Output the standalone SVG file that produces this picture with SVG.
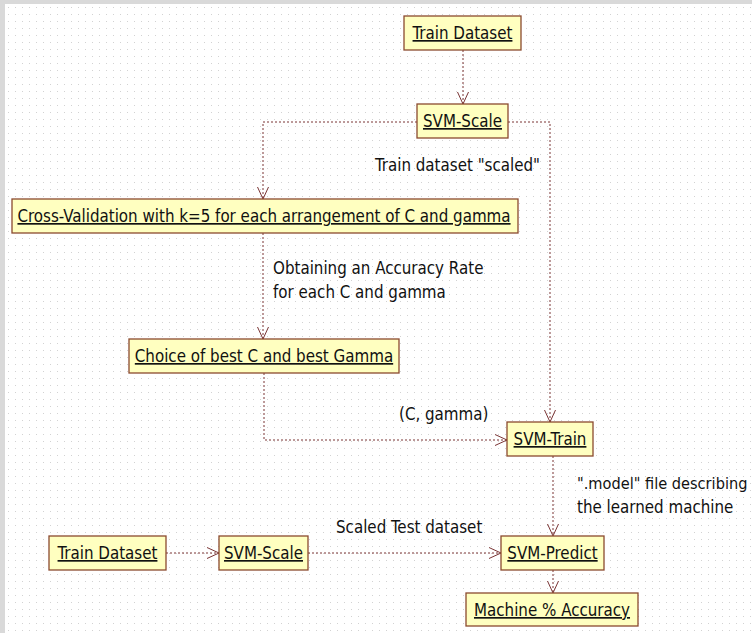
<svg xmlns="http://www.w3.org/2000/svg" width="752" height="633" viewBox="0 0 752 633">
<defs>
<pattern id="grid" x="5" y="4" width="7" height="7" patternUnits="userSpaceOnUse">
<rect x="3" y="3" width="1" height="1" fill="#d2d2d2"/>
</pattern>
<marker id="arr" viewBox="0 0 14 14" refX="13" refY="7" markerWidth="14" markerHeight="14" markerUnits="userSpaceOnUse" orient="auto">
<path d="M1,1.5 L13,7 L1,12.5" fill="none" stroke="#7a3535" stroke-width="1"/>
</marker>
<style>
.box{fill:#ffffc0;stroke:#8b4a2e;stroke-width:1.3}
.t{font-family:"DejaVu Sans Condensed","DejaVu Sans",sans-serif;font-stretch:condensed;font-size:16.8px;fill:#111;text-decoration:underline}
.l{font-family:"DejaVu Sans Condensed","DejaVu Sans",sans-serif;font-stretch:condensed;font-size:16.8px;fill:#111}
.c{fill:none;stroke:#7a3535;stroke-width:1;stroke-dasharray:2 2;marker-end:url(#arr)}
</style>
</defs>
<rect width="752" height="633" fill="#ffffff"/>
<rect width="752" height="633" fill="url(#grid)"/>
<rect x="0" y="0" width="5" height="633" fill="#d9d9d9"/>
<rect x="0" y="0" width="752" height="4" fill="#d9d9d9"/>

<g id="connectors">
<path class="c" d="M463,50 V104"/>
<path class="c" d="M417,122 H263 V199"/>
<path class="c" d="M508,122 H550 V422"/>
<path class="c" d="M263,233 V339"/>
<path class="c" d="M264,373 V440 H507"/>
<path class="c" d="M553,456 V536"/>
<path class="c" d="M553,570 V593"/>
<path class="c" d="M166,553 H219"/>
<path class="c" d="M308,553 H501"/>
</g>

<g id="labels">
<text class="l" x="375" y="171">Train dataset "scaled"</text>
<text class="l" x="273" y="274">Obtaining an Accuracy Rate</text>
<text class="l" x="273" y="298">for each C and gamma</text>
<text class="l" x="399" y="420">(C, gamma)</text>
<text class="l" x="577" y="489" style="font-size:16.2px">".model" file describing</text>
<text class="l" x="577" y="513">the learned machine</text>
<text class="l" x="336" y="533">Scaled Test dataset</text>
</g>

<g id="train-dataset-top">
<rect class="box" x="404" y="16" width="117" height="34"/>
<text class="t" x="462.5" y="39" text-anchor="middle">Train Dataset</text>
</g>
<g id="svm-scale-top">
<rect class="box" x="417" y="104" width="91" height="34"/>
<text class="t" x="462.5" y="127" text-anchor="middle">SVM-Scale</text>
</g>
<g id="cross-validation">
<rect class="box" x="12" y="199" width="506" height="34"/>
<text class="t" x="264" y="222" text-anchor="middle">Cross-Validation with k=5 for each arrangement of C and gamma</text>
</g>
<g id="choice">
<rect class="box" x="129" y="339" width="270" height="34"/>
<text class="t" x="264" y="362" text-anchor="middle">Choice of best C and best Gamma</text>
</g>
<g id="svm-train">
<rect class="box" x="507" y="422" width="86" height="34"/>
<text class="t" x="550" y="445" text-anchor="middle">SVM-Train</text>
</g>
<g id="svm-predict">
<rect class="box" x="501" y="536" width="103" height="34"/>
<text class="t" x="552.5" y="559" text-anchor="middle">SVM-Predict</text>
</g>
<g id="machine-accuracy">
<rect class="box" x="466" y="593" width="172" height="33"/>
<text class="t" x="552" y="616" text-anchor="middle">Machine % Accuracy</text>
</g>
<g id="train-dataset-bottom">
<rect class="box" x="49" y="536" width="117" height="34"/>
<text class="t" x="107.5" y="559" text-anchor="middle">Train Dataset</text>
</g>
<g id="svm-scale-bottom">
<rect class="box" x="219" y="536" width="89" height="34"/>
<text class="t" x="263.5" y="559" text-anchor="middle">SVM-Scale</text>
</g>
</svg>
